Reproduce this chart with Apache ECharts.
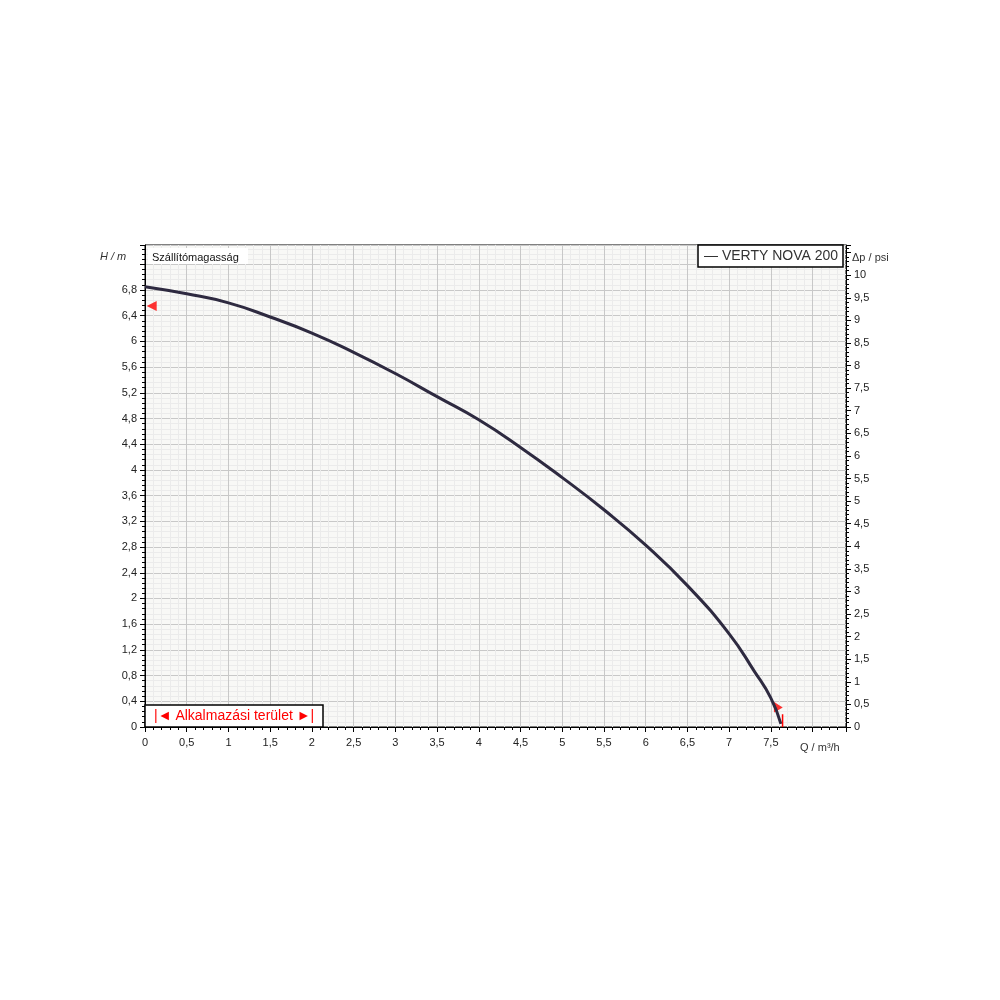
<!DOCTYPE html><html><head><meta charset="utf-8"><script src="https://cdn.jsdelivr.net/npm/echarts@6/dist/echarts.min.js"></script></head><body style="margin:0"><div id="c" style="width:1000px;height:1000px"></div><script>
const flowQ=[0,0.5,1,1.5,2,2.5,3,3.5,4,4.5,5,5.5,6,6.5,7,7.3,7.5,7.62];
const headH=[6.85,6.74,6.6,6.38,6.13,5.83,5.5,5.14,4.78,4.35,3.88,3.38,2.83,2.2,1.45,0.87,0.45,0.05];
const seriesName='VERTY NOVA 200';
const c=echarts.init(document.getElementById('c'));
const fmt=v=>String(Math.round(v*100)/100).replace('.',',');
const ax={axisLine:{show:true,lineStyle:{color:'#000'}},axisTick:{show:true,length:5,lineStyle:{color:'#000'}},minorTick:{show:true,splitNumber:5,length:3,lineStyle:{color:'#000'}},axisLabel:{color:'#222',fontSize:11,fontFamily:'Arial'}};
const Z={z:100,zlevel:1};
c.setOption({animation:false,
grid:{left:145,top:245,width:701,height:482,backgroundColor:'#f8f8f6',show:true,borderColor:'#000',borderWidth:1},
xAxis:{type:'value',min:0,max:8.4,interval:0.5,...ax,axisLabel:{...ax.axisLabel,margin:10,formatter:v=>v>7.6?'':fmt(v)},splitLine:{lineStyle:{color:'#c8c8c8'}},minorSplitLine:{show:true,lineStyle:{color:'#ebebeb'}}},
yAxis:[{type:'value',min:0,max:7.5,interval:0.4,...ax,axisLabel:{...ax.axisLabel,formatter:v=>v>7?'':fmt(v)},splitLine:{lineStyle:{color:'#c8c8c8'}},minorSplitLine:{show:true,lineStyle:{color:'#ebebeb'}}},
{type:'value',position:'right',min:0,max:7.5/0.70307,interval:0.5,...ax,axisLabel:{...ax.axisLabel,formatter:v=>v>10.2?'':fmt(v)},splitLine:{show:false}}],
graphic:[
{type:'text',...Z,left:100,top:251,style:{text:'H / m',fontSize:11,fontStyle:'italic',fill:'#333',fontFamily:'Arial'}},
{type:'rect',...Z,shape:{x:148,y:248,width:100,height:16},style:{fill:'#fff'}},
{type:'text',...Z,left:152,top:252,style:{text:'Szállítómagasság',fontSize:11,fill:'#111',fontFamily:'Arial'}},
{type:'text',...Z,left:852,top:252,style:{text:'Δp / psi',fontSize:11,fill:'#333',fontFamily:'Arial'}},
{type:'text',...Z,left:800,top:742,style:{text:'Q / m³/h',fontSize:11,fill:'#333',fontFamily:'Arial'}},
{type:'rect',...Z,shape:{x:698,y:245,width:145,height:22},style:{fill:'#fff',stroke:'#000',lineWidth:1.5}},
{type:'text',...Z,left:704,top:249,style:{text:'— '+seriesName,fontSize:14,fill:'#333',fontFamily:'Arial'}},
{type:'rect',...Z,shape:{x:145,y:705,width:178,height:22},style:{fill:'#fff',stroke:'#000',lineWidth:1.5}},
{type:'text',...Z,left:154,top:709,style:{text:'|◄ Alkalmazási terület ►|',fontSize:14,fill:'#f00',fontFamily:'Arial'}}
],
series:[{name:seriesName,type:'line',data:flowQ.map((q,i)=>[q,headH[i]]),smooth:0.5,symbol:'none',lineStyle:{color:'#2e2a40',width:3}},
{type:'scatter',data:[[0.08,6.55]],symbol:'triangle',symbolRotate:90,symbolSize:10,itemStyle:{color:'#f00'}},
{type:'scatter',data:[[7.56,0.33]],symbol:'triangle',symbolRotate:30,symbolSize:10,itemStyle:{color:'#f00'}},
{type:'line',data:[[7.64,0],[7.64,0.2]],symbol:'none',lineStyle:{color:'#f00',width:1.5}}]
});
</script></body></html>
